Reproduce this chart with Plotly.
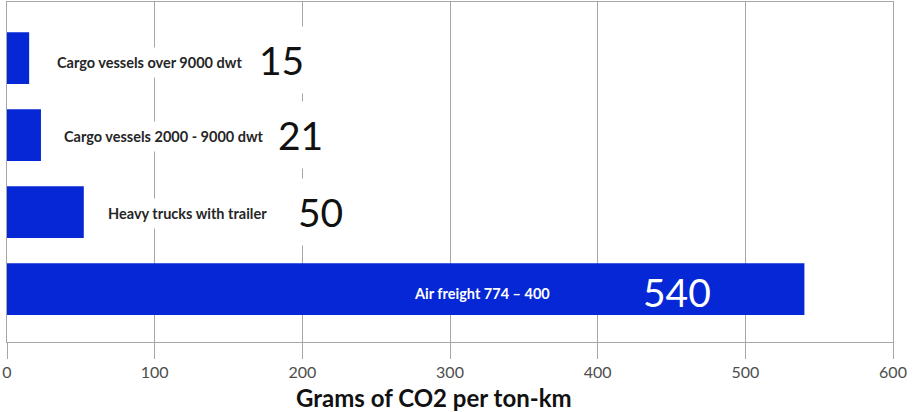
import plotly.graph_objects as go

# ---- data ----
categories = ["Air freight 774 – 400", "Heavy trucks with trailer",
              "Cargo vessels 2000 - 9000 dwt", "Cargo vessels over 9000 dwt"]
bar_values = [540, 52, 23, 15]          # bar lengths as drawn
value_labels = ["540", "50", "21", "15"]  # numbers printed next to bars
x_ticks = [0, 100, 200, 300, 400, 500, 600]
x_title = "Grams of CO2 per ton-km"

# ---- layout constants ----
BAR_COLOR = "#0527d6"
GRID = "#a6a6a6"
label_x = [321.7, 121.9, 106.3, 96.8]     # data-x centre of category labels
label_yshift = [-4, -1, -1, -4]
number_x = [453.7, 212.0, 199.0, 186.2]   # data-x centre of big numbers
number_yshift = [-3, 0, 0, -2]

fig = go.Figure()
fig.add_trace(go.Bar(
    x=bar_values, y=categories, orientation="h",
    marker=dict(color=BAR_COLOR, line=dict(width=0)),
    hoverinfo="skip", showlegend=False,
))

annotations = []
for i, cat in enumerate(categories):
    inside = i == 0
    annotations.append(dict(
        x=label_x[i], y=cat, xref="x", yref="y", text="<b>%s</b>" % cat,
        showarrow=False, xanchor="center", yanchor="middle", yshift=label_yshift[i],
        font=dict(family="Lato", size=14.5, color="white" if inside else "#262626"),
        bgcolor=None if inside else "white", borderpad=6,
    ))
    annotations.append(dict(
        x=number_x[i], y=cat, xref="x", yref="y", text=value_labels[i],
        showarrow=False, xanchor="center", yanchor="middle", yshift=number_yshift[i],
        font=dict(family="Lato", size=39, color="white" if inside else "#111111"),
        bgcolor=None if inside else "white", borderpad=10,
    ))

plot_h = 412 - 2 - 70
annotations.append(dict(
    x=0.482, y=(412 - 70 - 397) / plot_h, xref="paper", yref="paper",
    text="<b>%s</b>" % x_title,
    showarrow=False, xanchor="center", yanchor="middle",
    font=dict(family="Lato", size=24, color="#111111"),
))

fig.update_layout(
    width=914, height=412,
    margin=dict(l=7, r=21, t=2, b=70, pad=0, autoexpand=False),
    paper_bgcolor="white", plot_bgcolor="white",
    bargap=0.328,
    xaxis=dict(
        range=[0, 600], tickvals=x_ticks, ticktext=[str(v) for v in x_ticks],
        showgrid=True, gridcolor=GRID, gridwidth=1, automargin=False,
        zeroline=False, showline=True, linecolor=GRID, linewidth=1, mirror=True,
        ticks="outside", ticklen=16, tickcolor=GRID, tickwidth=1,
        tickfont=dict(family="Lato", size=16, color="#4d4d4d"),
        fixedrange=True,
    ),
    yaxis=dict(
        type="category", categoryorder="array", categoryarray=categories,
        range=[-0.685, 3.73], showticklabels=False, ticks="", automargin=False,
        showgrid=False, zeroline=False, showline=True, linecolor=GRID,
        linewidth=1, mirror=True, fixedrange=True,
    ),
    annotations=annotations,
)

fig.write_html(
    "out.html",
    config={"displayModeBar": False},
    post_script="document.body.style.margin='0';document.body.style.overflow='hidden';",
)
